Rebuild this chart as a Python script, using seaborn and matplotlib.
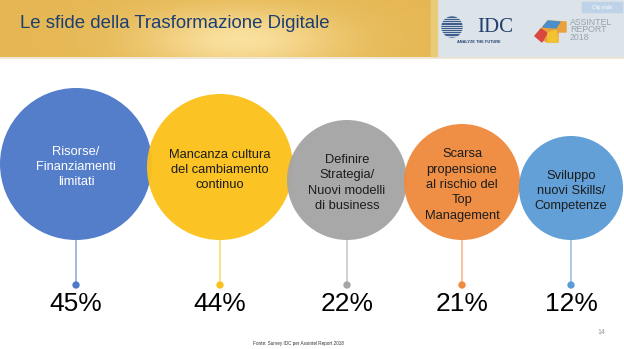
import numpy as np
import pandas as pd
import matplotlib.pyplot as plt
from matplotlib.patches import Circle, Rectangle, Polygon
import seaborn as sns

# data
labels = ["Risorse/\nFinanziamenti\nlimitati",
          "Mancanza cultura\ndel cambiamento\ncontinuo",
          "Definire\nStrategia/\nNuovi modelli\ndi business",
          "Scarsa\npropensione\nal rischio del\nTop\nManagement",
          "Sviluppo\nnuovi Skills/\nCompetenze"]
values = [45, 44, 22, 21, 12]
title = "Le sfide della Trasformazione Digitale"
source = "Fonte: Survey IDC per Assintel Report 2018"

# layout (pixel coords)
xpos = [76, 220, 347, 462, 571]
radii = [76, 73, 60, 58, 52]
colors = ["#4E79C8", "#FBC11B", "#A5A5A5", "#EF8A3E", "#5C9CD6"]
text_colors = ["white", "#1c1c1c", "#1c1c1c", "#1c1c1c", "#1c1c1c"]
base_y = 240
dot_y = 285

sns.set_theme(style="white")
plt.rcParams['font.family'] = ['Liberation Sans', 'DejaVu Sans']

fig = plt.figure(figsize=(6.24, 3.49), dpi=100)
ax = fig.add_axes([0, 0, 1, 1])

# header band: golden gradient + light logo panel
gx = np.linspace(0, 1, 300)
gy = np.linspace(0, 1, 40)
GX, GY = np.meshgrid(gx, gy)
spot = np.exp(-((GX - 0.55) ** 2 / 0.05 + (GY - 0.7) ** 2 / 0.3))
base = np.array([0.90, 0.72, 0.33])
light = np.array([0.98, 0.88, 0.62])
img = base[None, None, :] * (1 - spot[..., None]) + light[None, None, :] * spot[..., None]
ax.imshow(img, extent=(0, 436, 57, 0), aspect="auto", zorder=0)
ax.add_patch(Rectangle((436, 0), 188, 57, color="#DCE3E9", zorder=0))
ax.add_patch(Rectangle((431, 0), 6, 57, color="#EACB78", zorder=1))
ax.plot([0, 624], [57.5, 57.5], color="#EDE4CF", lw=1.2, zorder=1)
ax.text(20, 24, title, fontsize=13.4, color="#1B3F73", va="center", ha="left")

# logos
ax.add_patch(Circle((452, 27), 10, color="#3E5F8E", zorder=2))
for yy in np.arange(18, 37, 2.2):
    ax.plot([440, 465], [yy, yy], color="#DCE3E9", lw=0.6, zorder=3)
ax.text(477, 27, "IDC", fontsize=15, family="Liberation Serif", color="#233F6E", va="center")
ax.text(479, 42, "ANALYZE THE FUTURE", fontsize=2.8, color="#233F6E", va="center", ha="center",
        fontweight="bold")
ax.add_patch(Polygon([(535, 36), (548, 21), (566, 22), (566, 32), (558, 32), (558, 42), (547, 42)],
                     closed=True, color="#E9A23B", zorder=2))
ax.add_patch(Polygon([(543, 27), (548, 21), (560, 22), (556, 28)], closed=True, color="#4B8FC9", zorder=3))
ax.add_patch(Polygon([(535, 36), (541, 29), (547, 33), (542, 42)], closed=True, color="#D9473F", zorder=3))
ax.add_patch(Polygon([(548, 33), (556, 30), (558, 42), (548, 42)], closed=True, color="#F2C230", zorder=3))
ax.text(570, 30, "ASSINTEL\nREPORT\n2018", fontsize=6.3, color="#9AA3AA", va="center", ha="left",
        linespacing=0.85)
ax.add_patch(Rectangle((582, 2), 40, 10, color="#BFD3E8", zorder=2))
ax.text(602, 7, "Clip slide", fontsize=3.5, color="white", ha="center", va="center", zorder=3)

# bubbles
for x, r, c, lab, tc in zip(xpos, radii, colors, labels, text_colors):
    ax.add_patch(Circle((x, base_y - r), r, color=c, alpha=0.96, lw=0, zorder=4))
    ax.text(x, base_y - r + 3, lab, fontsize=9.3, color=tc, ha="center", va="center",
            linespacing=1.38, zorder=5)

# stems and dots
df = pd.DataFrame({"x": xpos, "y": [dot_y] * 5, "value": values})
ax.vlines(df["x"], base_y, dot_y, colors=colors, lw=1.2, alpha=0.6, zorder=3)
sns.scatterplot(data=df, x="x", y="y", hue="x", palette=colors, s=28, legend=False,
                linewidth=0, ax=ax, zorder=6)
ax.set_xlim(0, 624)
ax.set_ylim(349, 0)
ax.axis("off")

for x, v in zip(df["x"], df["value"]):
    ax.text(x, 304, f"{v}%", fontsize=19, color="black", ha="center", va="center")

ax.text(253, 343, source, fontsize=3.3, color="#333333", va="center", ha="left")
ax.text(601, 332, "14", fontsize=5, color="#999999", va="center", ha="center")

fig.savefig("out.png", dpi=100)
